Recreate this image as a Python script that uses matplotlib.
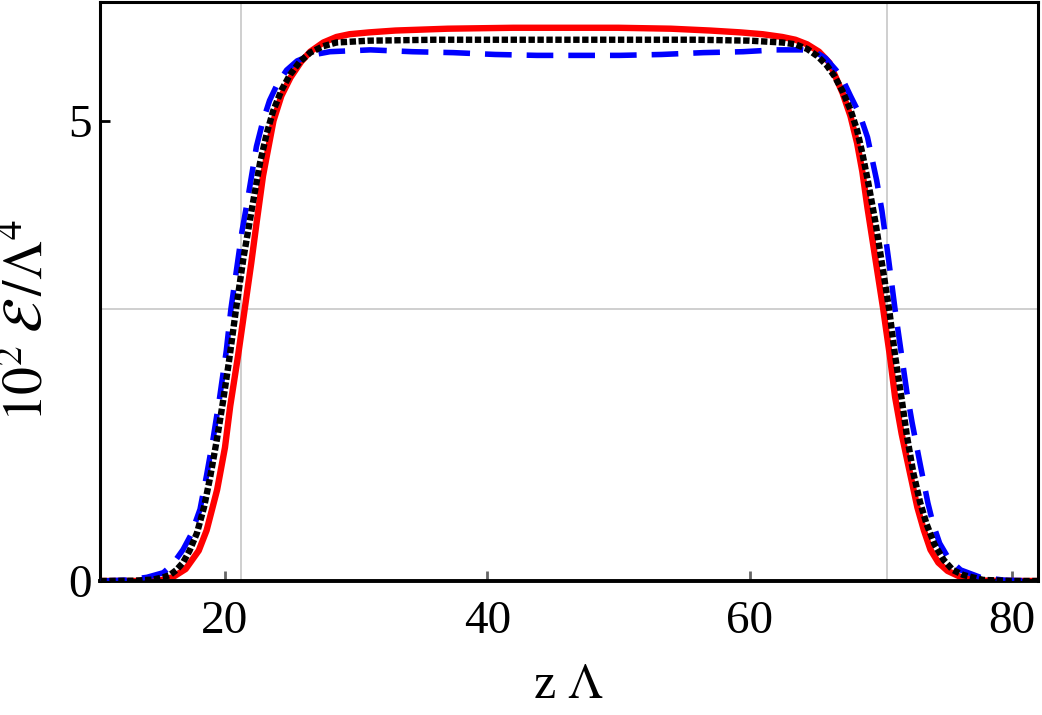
import matplotlib
matplotlib.use("Agg")
import matplotlib.pyplot as plt

plt.rcParams['font.family'] = ['Liberation Serif', 'DejaVu Serif']
plt.rcParams['mathtext.fontset'] = 'stix'

# Red solid curve
red_x = [10.5, 13.0, 15.0, 16.0, 17.0, 18.0, 18.6, 19.4, 20.0, 20.4, 21.0, 21.5, 22.0,
         22.4, 22.9, 23.7, 24.3, 25.0, 25.8, 26.5, 27.5, 28.5, 29.5, 31.0, 33.0, 37.0,
         42.0, 46.0, 50.0, 54.0, 57.0, 59.3, 61.0, 62.5, 63.5, 64.4, 65.3, 66.1, 67.1,
         67.7, 68.2, 68.6, 69.0, 69.6, 70.2, 70.7, 71.1, 71.6, 72.0, 72.8, 73.3, 73.8,
         74.4, 75.1, 76.3, 77.5, 80.0, 82.0]
red_y = [0.0, 0.0, 0.005, 0.04, 0.13, 0.33, 0.55, 0.99, 1.45, 1.9, 2.45, 2.95, 3.45,
         3.88, 4.4, 5.0, 5.27, 5.47, 5.64, 5.75, 5.85, 5.91, 5.94, 5.96, 5.98, 6.0,
         6.01, 6.01, 6.01, 6.0, 5.98, 5.96, 5.94, 5.91, 5.88, 5.83, 5.75, 5.63, 5.30,
         5.05, 4.76, 4.45, 4.05, 3.5, 2.95, 2.45, 2.0, 1.6, 1.33, 0.80, 0.55, 0.34,
         0.2, 0.11, 0.03, 0.005, 0.0, 0.0]

# Black dotted curve
black_x = [10.5, 13.0, 14.5, 15.3, 15.8, 16.3, 16.8, 17.3, 17.86, 18.4, 18.86, 19.4,
           19.85, 20.3, 20.84, 21.4, 22.06, 22.67, 23.2, 23.66, 24.3, 24.96, 25.7, 26.5,
           27.5, 28.5, 31.0, 36.0, 42.0, 46.0, 50.0, 56.0, 60.0, 62.5, 63.5, 64.4, 65.2,
           65.9, 66.5, 67.1, 67.7, 68.2, 68.6, 69.05, 69.6, 70.1, 70.65, 71.1, 71.6,
           72.0, 72.5, 73.0, 73.5, 74.1, 74.8, 75.5, 76.3, 77.8, 80.0, 82.0]
black_y = [0.0, 0.003, 0.015, 0.04, 0.065, 0.12, 0.2, 0.33, 0.52, 0.8, 1.12, 1.55,
           1.95, 2.38, 2.95, 3.5, 4.05, 4.54, 4.87, 5.1, 5.33, 5.5, 5.64, 5.74,
           5.81, 5.85, 5.87, 5.88, 5.88, 5.88, 5.88, 5.88, 5.87, 5.85, 5.83, 5.78, 5.7,
           5.6, 5.48, 5.32, 5.12, 4.9, 4.65, 4.33, 3.9, 3.45, 2.95, 2.45, 1.98,
           1.58, 1.17, 0.86, 0.62, 0.4, 0.23, 0.12, 0.065, 0.012, 0.0, 0.0]

# Blue dashed curve
blue_x = [10.5, 12.5, 14.05, 15.3, 16.0, 16.8, 17.4, 18.1, 18.6, 19.1, 19.6, 20.1,
          20.45, 20.9, 21.3, 21.7, 22.4, 22.9, 23.4, 24.0, 24.7, 25.5, 26.5, 28.0,
          31.1, 34.3, 37.4, 40.6, 43.8, 46.9, 50.1, 53.3, 56.5, 59.5, 62.0, 64.0, 65.0,
          65.8, 66.6, 67.2, 67.7, 68.4, 69.0, 69.4, 69.7, 70.1, 70.6, 71.1, 71.6, 72.0,
          72.4, 73.0, 73.6, 74.0, 74.5, 75.2, 76.1, 77.6, 79.5, 82.0]
blue_y = [0.0, 0.01, 0.04, 0.09, 0.18, 0.34, 0.5, 0.78, 1.15, 1.55, 2.0, 2.5,
          2.95, 3.4, 3.8, 4.12, 4.72, 5.0, 5.22, 5.4, 5.55, 5.65, 5.71, 5.75,
          5.77, 5.75, 5.74, 5.72, 5.71, 5.71, 5.71, 5.72, 5.74, 5.75, 5.77, 5.77, 5.75,
          5.68, 5.55, 5.42, 5.27, 5.07, 4.82, 4.55, 4.35, 4.02, 3.5, 2.95, 2.45, 2.05,
          1.72, 1.28, 0.85, 0.62, 0.41, 0.24, 0.12, 0.04, 0.008, 0.0]

x_ticks = [20, 40, 60, 80]
y_ticks = [0, 5]
x_grid = [21.2, 70.47]
y_grid = [2.95]

fig = plt.figure(figsize=(10.42, 7.15), dpi=100)
ax = fig.add_axes([100/1042, 1 - 581/715, 938/1042, 579/715])

for gx in x_grid:
    ax.axvline(gx, color='#cccccc', lw=1.3, zorder=0)
for gy in y_grid:
    ax.axhline(gy, color='#cccccc', lw=1.3, zorder=0)

ax.plot(red_x, red_y, color='#ff0000', lw=4.6, solid_joinstyle='round', zorder=2)
ax.plot(blue_x, blue_y, color='#0000ff', lw=4.0, dashes=(4.8, 2.7), zorder=3)
ax.plot(black_x, black_y, color='black', lw=4.6, dashes=(1.0, 0.4), zorder=4)

ax.set_xlim(10.47, 82.0)
ax.set_ylim(0, 6.29)

ax.set_xticks(x_ticks)
ax.set_xticklabels([str(v) for v in x_ticks])
ax.set_yticks(y_ticks)
ax.set_yticklabels([str(v) for v in y_ticks])

ax.tick_params(axis='x', direction='in', length=7, width=2, color='#666666',
               labelsize=34, pad=14)
ax.tick_params(axis='y', direction='in', length=7, width=2, color='black',
               labelsize=34, pad=6)

for s in ax.spines.values():
    s.set_linewidth(2.2)
    s.set_color('black')
ax.spines['bottom'].set_linewidth(2.8)

ax.set_xlabel(r'z $\Lambda$', fontsize=36, labelpad=14)
ax.set_ylabel(r'$10^2\;\mathcal{E}\,/\Lambda^4$', fontsize=40)
ax.yaxis.set_label_coords(-0.048, 0.45)

fig.savefig('out.png', dpi=100, facecolor='white')
